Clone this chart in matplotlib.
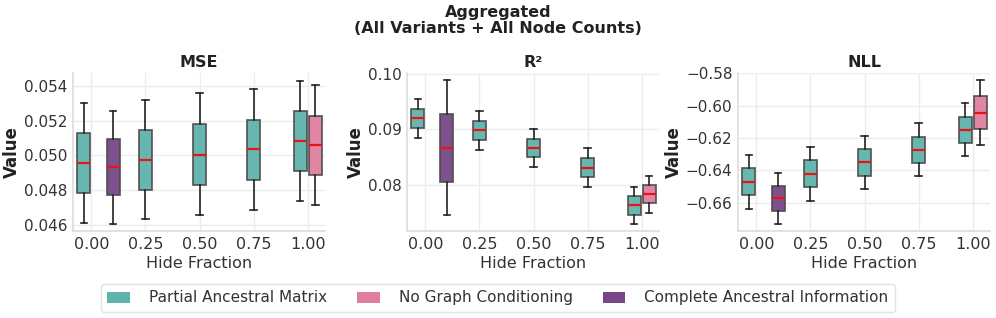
import matplotlib
matplotlib.use("Agg")
import matplotlib.pyplot as plt
from matplotlib.patches import Patch

plt.rcParams['font.family'] = ['DejaVu Sans']

hide_fractions = [0.00, 0.25, 0.50, 0.75, 1.00]
tick_labels = ["0.00", "0.25", "0.50", "0.75", "1.00"]
series_names = ["Partial Ancestral Matrix", "No Graph Conditioning", "Complete Ancestral Information"]
colors = {"Partial Ancestral Matrix": "#5fb3ad",
          "No Graph Conditioning": "#e07ea0",
          "Complete Ancestral Information": "#774686"}

# box stats per metric: [whislo, q1, med, q3, whishi]
mse_partial = [[0.04613, 0.04782, 0.04954, 0.05126, 0.05299],
               [0.04633, 0.04801, 0.04973, 0.05145, 0.05316],
               [0.04659, 0.04830, 0.05004, 0.05178, 0.05356],
               [0.04688, 0.04860, 0.05034, 0.05205, 0.05379],
               [0.04740, 0.04912, 0.05084, 0.05255, 0.05427]]
mse_nograph = [0.04715, 0.04885, 0.05059, 0.05228, 0.05406]
mse_complete = [0.04608, 0.04770, 0.04933, 0.05094, 0.05256]

r2_partial = [[0.08849, 0.09024, 0.09199, 0.09373, 0.09548],
              [0.08633, 0.08807, 0.08982, 0.09157, 0.09331],
              [0.08325, 0.08494, 0.08669, 0.08831, 0.09006],
              [0.07970, 0.08145, 0.08313, 0.08482, 0.08657],
              [0.07307, 0.07470, 0.07633, 0.07795, 0.07964]]
r2_nograph = [0.07494, 0.07669, 0.07837, 0.08000, 0.08169]
r2_complete = [0.07458, 0.08060, 0.08669, 0.09271, 0.09886]

nll_partial = [[-0.6637, -0.6554, -0.6473, -0.6388, -0.6307],
               [-0.6588, -0.6505, -0.6421, -0.6338, -0.6255],
               [-0.6515, -0.6434, -0.6351, -0.6268, -0.6187],
               [-0.6436, -0.6355, -0.6272, -0.6191, -0.6108],
               [-0.6313, -0.6232, -0.6149, -0.6070, -0.5985]]
nll_nograph = [-0.6245, -0.6143, -0.6043, -0.5941, -0.5839]
nll_complete = [-0.6729, -0.6652, -0.6573, -0.6496, -0.6417]

complete_position = 0.10
metrics = [
    ("MSE", mse_partial, mse_nograph, mse_complete, (0.04566, 0.05473), [0.046, 0.048, 0.050, 0.052, 0.054], "{:.3f}"),
    ("R²", r2_partial, r2_nograph, r2_complete, (0.07175, 0.1001), [0.08, 0.09, 0.10], "{:.2f}"),
    ("NLL", nll_partial, nll_nograph, nll_complete, (-0.6775, -0.5798), [-0.66, -0.64, -0.62, -0.60, -0.58], "{:.2f}"),
]

fig = plt.figure(figsize=(9.96, 3.18), dpi=100)
lefts = [0.0733, 0.4086, 0.741]
bottom, height, width = 0.2736, 0.4968, 0.253
dodge, bw = 0.035, 0.06


def stat(v):
    return dict(whislo=v[0], q1=v[1], med=v[2], q3=v[3], whishi=v[4], fliers=[])


def draw(ax, stats, positions, color):
    ax.bxp([stat(s) for s in stats], positions=positions, widths=bw, patch_artist=True,
           showfliers=False, manage_ticks=False,
           boxprops=dict(facecolor=color, edgecolor="#4a4a4a", linewidth=1.2, alpha=0.95),
           whiskerprops=dict(color="#222222", linewidth=1.2),
           capprops=dict(color="#222222", linewidth=1.2),
           medianprops=dict(color="#ee1111", linewidth=1.6))


for i, (name, part, nog, comp, ylim, yticks, fmt) in enumerate(metrics):
    ax = fig.add_axes([lefts[i], bottom, width, height])
    ax.set_axisbelow(True)
    ax.grid(True, color="#ececec", linewidth=1.0)
    pos = []
    for hf in hide_fractions:
        if hf == 0.0 or hf == 1.0:
            pos.append(hf - dodge)
        else:
            pos.append(hf)
    draw(ax, part, pos, colors["Partial Ancestral Matrix"])
    draw(ax, [nog], [1.0 + dodge], colors["No Graph Conditioning"])
    draw(ax, [comp], [complete_position], colors["Complete Ancestral Information"])
    ax.set_xlim(-0.085, 1.08)
    ax.set_ylim(*ylim)
    ax.set_xticks(hide_fractions)
    ax.set_xticklabels(tick_labels)
    ax.set_yticks(yticks)
    ax.set_yticklabels([fmt.format(t).replace("-", "\u2212") for t in yticks])
    ax.tick_params(axis="x", labelsize=11.5, colors="#333333", length=0, pad=4)
    ax.tick_params(axis="y", labelsize=11, colors="#333333", length=0, pad=4)
    for s in ["top", "right"]:
        ax.spines[s].set_visible(False)
    for s in ["left", "bottom"]:
        ax.spines[s].set_color("#dddddd")
        ax.spines[s].set_linewidth(1.2)
    ax.set_title(name, fontsize=11.5, fontweight="bold", color="#222222", pad=4)
    ax.set_xlabel("Hide Fraction", fontsize=11.5, color="#333333", labelpad=3)
    ax.set_ylabel("Value", fontsize=12, fontweight="bold", color="#222222", labelpad=2)

fig.text(0.5, 0.985, "Aggregated\n(All Variants + All Node Counts)", ha="center", va="top",
         fontsize=11.5, fontweight="bold", color="#222222", linespacing=1.1)

handles = [Patch(facecolor=colors[n], edgecolor="none", label=n) for n in series_names]
leg = fig.legend(handles=handles, loc="center", bbox_to_anchor=(0.5, 0.063), ncol=3,
                 fontsize=11, frameon=True, handlelength=1.45, handleheight=0.75,
                 columnspacing=2.0, handletextpad=1.25, borderpad=0.45, borderaxespad=0)
leg.get_frame().set_edgecolor("#dddddd")
leg.get_frame().set_linewidth(1.0)
for t in leg.get_texts():
    t.set_color("#333333")

fig.savefig("out.png", dpi=100)
